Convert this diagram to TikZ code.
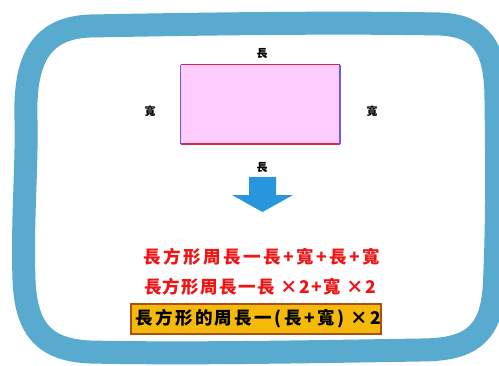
\documentclass[tikz,border=0pt]{standalone}
\usepackage{fontspec}
\newfontfamily\cjk{Noto Sans CJK TC}
\newfontfamily\cjkw{Noto Sans CJK TC}[LetterSpace=14]
\newfontfamily\cjkn{Noto Sans CJK TC}[LetterSpace=8]
\usetikzlibrary{shapes.arrows}
\definecolor{frameblue}{RGB}{88,170,206}
\definecolor{pinkfill}{RGB}{255,204,255}
\definecolor{edgered}{RGB}{220,40,70}
\definecolor{edgeblue}{RGB}{110,90,240}
\definecolor{arrowblue}{RGB}{40,150,220}
\definecolor{txtred}{RGB}{240,20,20}
\definecolor{goldfill}{RGB}{245,185,10}
\definecolor{goldedge}{RGB}{170,80,20}
\tikzset{
  lbl/.style={font=\cjk\bfseries\fontsize{11}{11}\selectfont, text=black, inner sep=0pt},
  redline/.style={font=\cjkw\bfseries\fontsize{17.5}{17.5}\selectfont, text=txtred, inner sep=0pt},
}
\begin{document}
\begin{tikzpicture}[x=1pt,y=-1pt]
\useasboundingbox (0,0) rectangle (499,365);
\fill[white] (0,0) rectangle (499,365);
% frame
\clip (0,0) rectangle (499,365);
\draw[frameblue, line width=23pt, line join=round]
  (26,120) .. controls (24,60) and (40,28) .. (90,26)
  .. controls (200,24) and (330,22) .. (440,24)
  .. controls (480,26) and (496,45) .. (496,100)
  .. controls (497,170) and (497,240) .. (494,290)
  .. controls (490,335) and (470,350) .. (420,350)
  .. controls (300,352) and (180,354) .. (90,352)
  .. controls (45,350) and (26,330) .. (24,280)
  .. controls (22,220) and (27,170) .. (26,120) -- cycle;
% rectangle
\node[draw=none, fill=pinkfill, minimum width=159pt, minimum height=79pt, inner sep=0pt, anchor=north west] (rect) at (180.5,64.5) {};
\draw[edgered, line width=1.6pt] (rect.north west) -- (rect.north east);
\draw[edgered, line width=1.6pt] (rect.south west) -- (rect.south east);
\draw[edgeblue, line width=1.6pt] (rect.north west) -- (rect.south west);
\draw[edgeblue, line width=1.6pt] (rect.north east) -- (rect.south east);
\node[lbl] (ltop) at (262,54) {長};
\node[lbl] (lleft) at (150,111) {寬};
\node[lbl] (lright) at (372,111) {寬};
\node[lbl] (lbot) at (262,168) {長};
% arrow
\fill[arrowblue] (249,177) -- (276,177) -- (276,195) -- (293,195) -- (262.5,212) -- (232,195) -- (249,195) -- cycle;
\coordinate (arrowtip) at (262.5,212);
% formulas
\node[redline] (f1) at (262,257) {長方形周長一長+寬+長+寬};
\node[redline, font=\cjkn\bfseries\fontsize{17.5}{17.5}\selectfont] (f2) at (260,287) {長方形周長一長 ×2+寬 ×2};
\node[draw=goldedge, fill=goldfill, line width=1.5pt, minimum width=250pt, minimum height=30pt, inner sep=0pt, anchor=north west] (box) at (130,303) {};
\begin{scope}
\clip (box.north west) rectangle (box.south east);
\node[font=\cjkw\bfseries\fontsize{17.5}{17.5}\selectfont, text=black, inner sep=0pt, anchor=west] (f3) at (135,318.5) {長方形的周長一(長+寬) ×2};
\end{scope}
\end{tikzpicture}
\end{document}
